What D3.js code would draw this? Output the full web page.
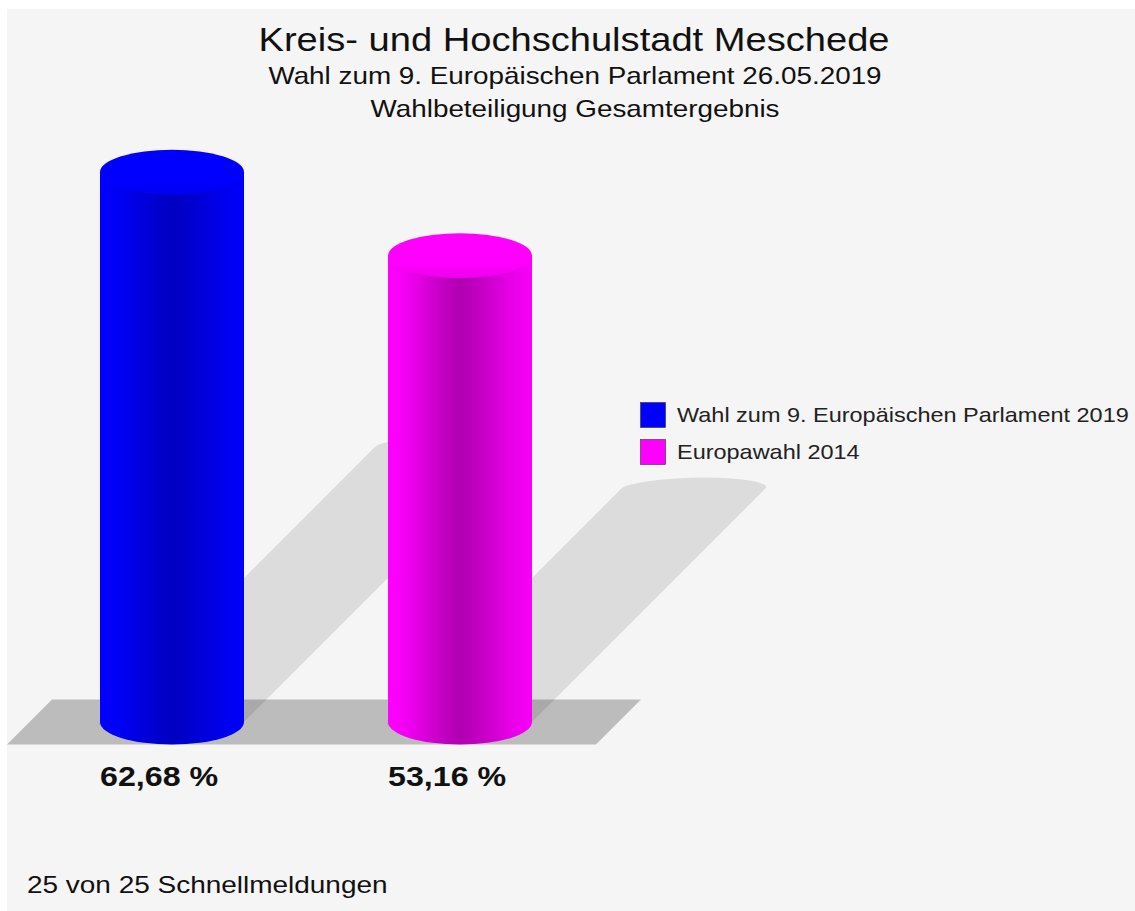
<!DOCTYPE html>
<html><head><meta charset="utf-8">
<script src="https://cdn.jsdelivr.net/npm/d3@7"></script>
<style>
html,body{margin:0;padding:0;background:#fff;}
svg{display:block;}
text{font-family:"Liberation Sans",Arial,Helvetica,sans-serif;fill:#111;}
</style></head>
<body>
<svg id="chart" width="1135" height="911"></svg>
<script>
// ---- data ----
const categories = ["Wahl zum 9. Europäischen Parlament 2019", "Europawahl 2014"];
const values = [62.68, 53.16];
const valueLabels = ["62,68 %", "53,16 %"];
const colors = ["#0000ff", "#ff00ff"];
const darkColors = ["#0000c2", "#b000b0"];
const titleLines = ["Kreis- und Hochschulstadt Meschede", "Wahl zum 9. Europäischen Parlament 26.05.2019", "Wahlbeteiligung Gesamtergebnis"];
const footerText = "25 von 25 Schnellmeldungen";

const W = 1135, H = 911, SX = 1.18;
const svg = d3.select("#chart");
const defs = svg.append("defs");

// panel background
svg.append("rect").attr("x", 7).attr("y", 9).attr("width", W - 7).attr("height", H - 9).attr("fill", "#f5f5f5");

// scales
const base = 722;
const x = d3.scaleBand().domain(categories).range([100, 532]).paddingInner(0.5).paddingOuter(0);
const y = d3.scaleLinear().domain([0, 70]).range([base, base - 614]);
const bw = x.bandwidth(), rx = bw / 2, ry = 22.5;

function stretchedText(g, tx, ty, txt, size, weight, anchor) {
  return g.append("text")
    .attr("transform", `translate(${tx},${ty}) scale(${SX},1)`)
    .attr("text-anchor", anchor || "start")
    .attr("font-size", size)
    .attr("font-weight", weight || "normal")
    .text(txt);
}

// titles
stretchedText(svg, 574, 51, titleLines[0], 32.3, "normal", "middle");
stretchedText(svg, 575, 84, titleLines[1], 23.6, "normal", "middle");
stretchedText(svg, 575, 117, titleLines[2], 23.6, "normal", "middle");

// gradients
colors.forEach((c, i) => {
  const g = defs.append("linearGradient").attr("id", "body" + i).attr("x1", 0).attr("x2", 1).attr("y1", 0).attr("y2", 0);
  const mid = d3.interpolateRgb(c, darkColors[i]);
  [[0, 0], [0.15, 0.2], [0.35, 0.7], [0.5, 1], [0.65, 0.75], [0.85, 0.3], [1, 0.08]].forEach(([o, t]) => {
    g.append("stop").attr("offset", o).attr("stop-color", mid(t));
  });
  const t = defs.append("linearGradient").attr("id", "top" + i).attr("x1", 0).attr("x2", 0).attr("y1", 0).attr("y2", 1);
  t.append("stop").attr("offset", 0).attr("stop-color", c);
  t.append("stop").attr("offset", 0.7).attr("stop-color", c);
  t.append("stop").attr("offset", 1).attr("stop-color", d3.interpolateRgb(c, darkColors[i])(0.25));
});

function silhouette(x0, yt) {
  return `M${x0},${yt} A${rx},${ry} 0 0 1 ${x0 + bw},${yt} L${x0 + bw},${base} A${rx},${ry} 0 0 1 ${x0},${base} Z`;
}

// shadows (sheared, half height, 45 degrees)
const shadowG = svg.append("g");
categories.forEach((c, i) => {
  shadowG.append("path")
    .attr("d", silhouette(x(c), y(values[i])))
    .attr("transform", `matrix(1,0,-0.5,0.5,${0.5 * base},${0.5 * base})`)
    .attr("fill", "rgba(0,0,0,0.1)");
});

// floor
const fl = x.range()[0] - 93, fr = x.range()[1] + 64;
svg.append("path")
  .attr("d", `M${fl},${base + ry} L${fr},${base + ry} L${fr + 2 * ry},${base - ry} L${fl + 2 * ry},${base - ry} Z`)
  .attr("fill", "rgba(0,0,0,0.23)");

// cylinders
categories.forEach((c, i) => {
  const x0 = x(c), yt = y(values[i]);
  const g = svg.append("g");
  g.append("path")
    .attr("d", `M${x0},${yt} L${x0},${base} A${rx},${ry} 0 0 0 ${x0 + bw},${base} L${x0 + bw},${yt} Z`)
    .attr("fill", `url(#body${i})`);
  g.append("ellipse").attr("cx", x0 + rx).attr("cy", yt).attr("rx", rx).attr("ry", ry)
    .attr("fill", `url(#top${i})`);
  stretchedText(svg, x0, 786, valueLabels[i], 27.3, "bold", "start");
});

// legend
const lg = svg.append("g");
categories.forEach((c, i) => {
  const ly = 402 + i * 37;
  lg.append("rect").attr("x", 640.5).attr("y", ly + 0.5).attr("width", 25).attr("height", 25)
    .attr("fill", colors[i]).attr("stroke", "#333").attr("stroke-width", 0.6);
  stretchedText(lg, 677, ly + 20, c, 19.9, "normal", "start").style("fill", "#222");
});

// footer
stretchedText(svg, 27, 893, footerText, 23.7, "normal", "start");
</script>
</body></html>
